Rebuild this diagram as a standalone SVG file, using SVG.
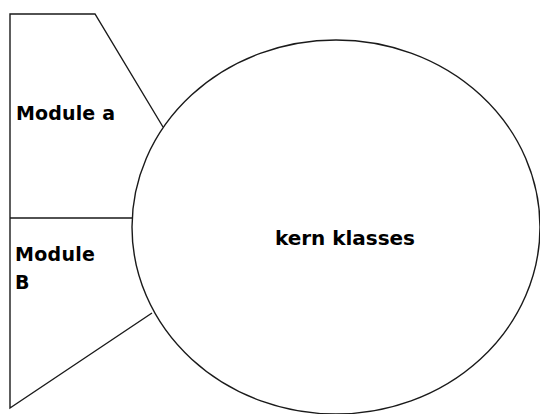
<svg xmlns="http://www.w3.org/2000/svg" width="540" height="414" viewBox="0 0 540 414">
<style>
.ln{fill:none;stroke:#1a1a1a;stroke-width:1.4}
.t{font-family:"DejaVu Sans","Liberation Sans",sans-serif;font-weight:bold;fill:#000}
</style>
<rect width="540" height="414" fill="#fff"/>
<g id="kern">
<ellipse class="ln" cx="336" cy="227" rx="204" ry="187"/>
<text class="t" x="275" y="245" font-size="20" textLength="140">kern klasses</text>
</g>
<g id="module-a">
<path class="ln" d="M10 218 V14 H95 L163 127"/>
<text class="t" x="16" y="120" font-size="19" textLength="99">Module a</text>
</g>
<g id="module-b">
<path class="ln" d="M10 218 H132 M10 218 V408 L152 313"/>
<text class="t" x="15" y="261" font-size="19" textLength="80">Module</text>
<text class="t" x="15" y="289" font-size="19">B</text>
</g>
<g id="connectors"/>
</svg>
